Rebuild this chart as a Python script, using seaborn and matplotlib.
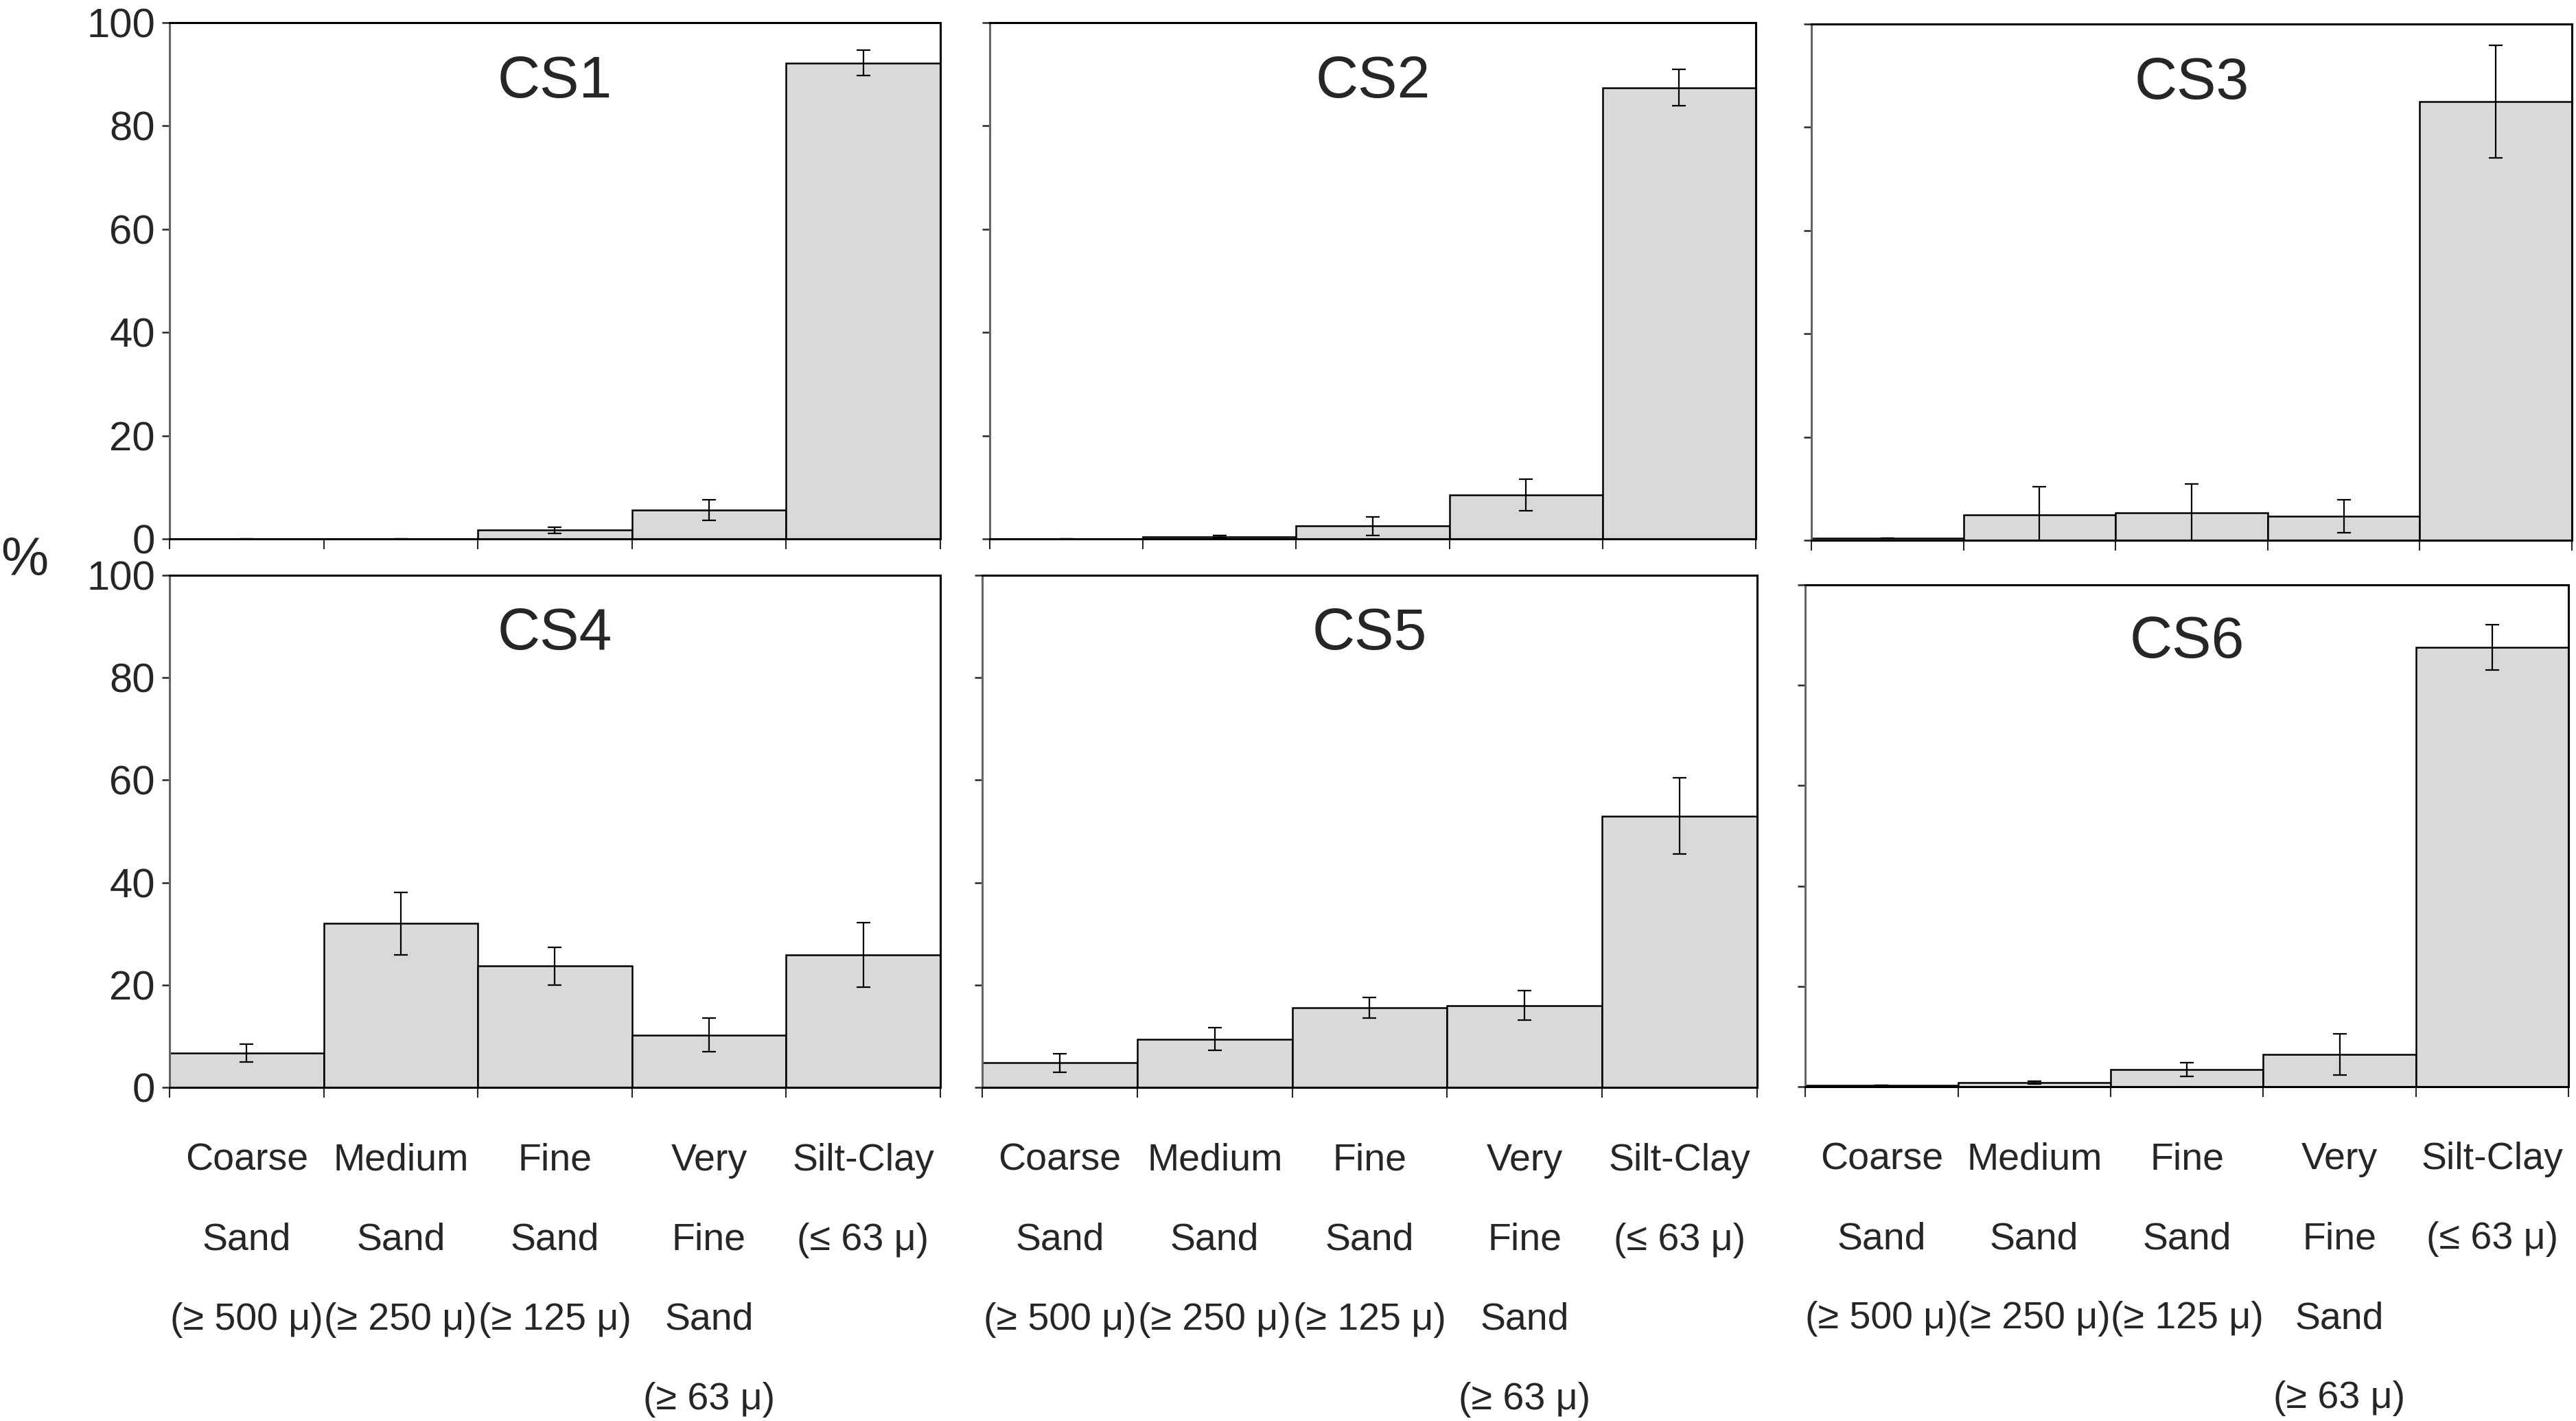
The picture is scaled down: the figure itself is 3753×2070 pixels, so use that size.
import numpy as np
import pandas as pd
import seaborn as sns
import matplotlib.pyplot as plt
from matplotlib.ticker import FixedLocator

# grain size classes
categories = ["Coarse\nSand\n(≥ 500 μ)", "Medium\nSand\n(≥ 250 μ)", "Fine\nSand\n(≥ 125 μ)",
              "Very\nFine\nSand\n(≥ 63 μ)", "Silt-Clay\n(≤ 63 μ)"]
sites = ["CS1", "CS2", "CS3", "CS4", "CS5", "CS6"]

# mean % per class
cs1 = [0.0, 0.0, 1.7, 5.6, 92.2]
cs2 = [0.0, 0.4, 2.5, 8.5, 87.4]
cs3 = [0.4, 4.9, 5.3, 4.7, 85.0]
cs4 = [6.7, 32.0, 23.7, 10.2, 25.8]
cs5 = [4.8, 9.4, 15.5, 16.0, 53.0]
cs6 = [0.3, 0.8, 3.4, 6.4, 87.5]

# error bar half-widths
cs1_err = [0.0, 0.0, 0.6, 2.0, 2.5]
cs2_err = [0.0, 0.2, 1.8, 3.0, 3.5]
cs3_err = [0.0, 5.5, 5.6, 3.2, 10.9]
cs4_err = [1.8, 6.1, 3.7, 3.3, 6.3]
cs5_err = [1.8, 2.2, 2.0, 2.9, 7.4]
cs6_err = [0.0, 0.3, 1.4, 4.1, 4.5]

means = [cs1, cs2, cs3, cs4, cs5, cs6]
errs = [cs1_err, cs2_err, cs3_err, cs4_err, cs5_err, cs6_err]

sns.set_style("ticks")
plt.rcParams['font.family'] = ['Liberation Sans', 'DejaVu Sans']

fig = plt.figure(figsize=(37.53, 20.70), dpi=100)

positions = [
    [0.0658, 0.6208, 0.2992, 0.3633],
    [0.3842, 0.6208, 0.2974, 0.3633],
    [0.7032, 0.6198, 0.2952, 0.3633],
    [0.0658, 0.2348, 0.2992, 0.3604],
    [0.3813, 0.2348, 0.3008, 0.3604],
    [0.7008, 0.2353, 0.2963, 0.3531],
]

for i, site in enumerate(sites):
    ax = fig.add_axes(positions[i])
    df = pd.DataFrame({"cls": categories, "pct": means[i]})
    sns.barplot(data=df, x="cls", y="pct", ax=ax, color="#d9d9d9", saturation=1,
                edgecolor="black", linewidth=1.8, width=1.0, errorbar=None)
    ax.errorbar(np.arange(len(categories)), means[i], yerr=errs[i], fmt="none",
                ecolor="black", elinewidth=1.6, capsize=7, capthick=1.6)
    ax.set_xlim(-0.5, 4.5)
    ax.set_ylim(0, 100)
    ax.set_xlabel("")
    ax.set_ylabel("")
    for sp in ax.spines.values():
        sp.set_visible(True)
        sp.set_color("black")
        sp.set_linewidth(2.2)
    ax.spines["left"].set_color("#666666")

    ax.set_yticks([0, 20, 40, 60, 80, 100])
    ax.tick_params(axis="y", direction="out", length=8, width=1.8, labelsize=43, pad=7)
    if i % 3 != 0:
        ax.tick_params(axis="y", labelleft=False)

    # ticks at class boundaries, labels under bar centres
    ax.xaxis.set_minor_locator(FixedLocator(np.arange(-0.5, 5.0, 1.0)))
    ax.tick_params(axis="x", which="minor", direction="out", length=11, width=1.5)
    ax.tick_params(axis="x", which="major", length=0, labelsize=40, pad=58)
    if i < 3:
        ax.tick_params(axis="x", which="major", labelbottom=False)
    else:
        for lab in ax.get_xticklabels():
            lab.set_linespacing(2.6)
            lab.set_verticalalignment("top")

    ax.text(0.5, 0.855, site, transform=ax.transAxes, ha="center", va="baseline",
            fontsize=62)

fig.text(0.0095, 0.605, "%", ha="center", va="center", fontsize=56)

fig.savefig("out.png", dpi=100, facecolor="white")
